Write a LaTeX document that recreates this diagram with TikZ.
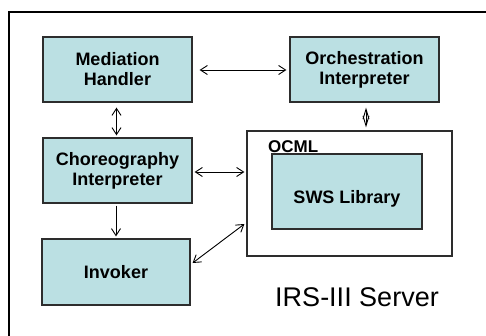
\documentclass[tikz,border=0pt]{standalone}
\usepackage{fontspec}
\setmainfont{Liberation Sans}
\usetikzlibrary{arrows.meta}
\definecolor{boxfill}{RGB}{187,224,227}
\definecolor{edge}{RGB}{45,45,45}
\begin{document}
\begin{tikzpicture}[x=1pt,y=-1pt,
  comp/.style={draw=edge,line width=1.2pt,fill=boxfill,inner sep=0pt,align=center,
    font=\fontsize{18}{20}\selectfont\bfseries},
  frame/.style={draw=edge,line width=1.2pt,fill=white,inner sep=0pt},
  link/.style={line width=0.9pt,>={Straight Barb[length=7pt,width=9pt]}},
  thin/.style={line width=0.9pt,>={Straight Barb[length=10pt,width=6pt]}}]
\useasboundingbox (0,0) rectangle (486,336);
\fill[white] (0,0) rectangle (486,336);
\draw[draw=black,line width=1.3pt] (9,336) -- (9,12) -- (486,12);
\node[comp,minimum width=149pt,minimum height=65pt] (med) at (117.5,69.5) {Mediation\\Handler};
\node[comp,minimum width=149pt,minimum height=65pt] (orch) at (364.5,69.5) {Orchestration\\Interpreter};
\node[comp,minimum width=149pt,minimum height=65pt] (chor) at (117.5,170.5) {Choreography\\Interpreter};
\node[comp,minimum width=148pt,minimum height=66pt] (inv) at (116,272) {Invoker};
\node[frame,minimum width=205pt,minimum height=125pt] (ocml) at (349.5,193.5) {};
\node[comp,minimum width=150pt,minimum height=75pt] (sws) at (347,191.5) {};
\node[font=\fontsize{18}{20}\selectfont\bfseries,anchor=base] (swst) at (347,204) {SWS Library};
\node[font=\fontsize{17}{20}\selectfont\bfseries,anchor=base west,inner sep=0pt] (ocmlt) at (268,153) {OCML};
\node[font=\fontsize{27}{30}\selectfont,anchor=base,inner sep=0pt] (srv) at (357,306) {IRS-III Server};
\draw[link,<->,shorten <=7pt,shorten >=3pt] ([yshift=-0.5pt]med.east) -- ([yshift=-0.5pt]orch.west);
\draw[link,<->,shorten <=5pt,shorten >=2pt] ([xshift=-1pt]med.south) -- ([xshift=-1pt]chor.north);
\draw[thin,<->,shorten <=5pt,shorten >=3pt] ([xshift=1.5pt]orch.south) -- ([xshift=1.5pt]orch.south |- ocml.north);
\draw[link,<->,shorten <=2pt,shorten >=2pt] ([yshift=-1.5pt]chor.east) -- ([yshift=-1.5pt]chor.east -| ocml.west);
\draw[link,->,shorten <=2pt,shorten >=2pt] (inv.north |- chor.south) -- (inv.north);
\draw[link,<->] ([xshift=2pt,yshift=9pt]inv.east) -- ([xshift=-2pt,yshift=-30.5pt]ocml.west);
\end{tikzpicture}
\end{document}
